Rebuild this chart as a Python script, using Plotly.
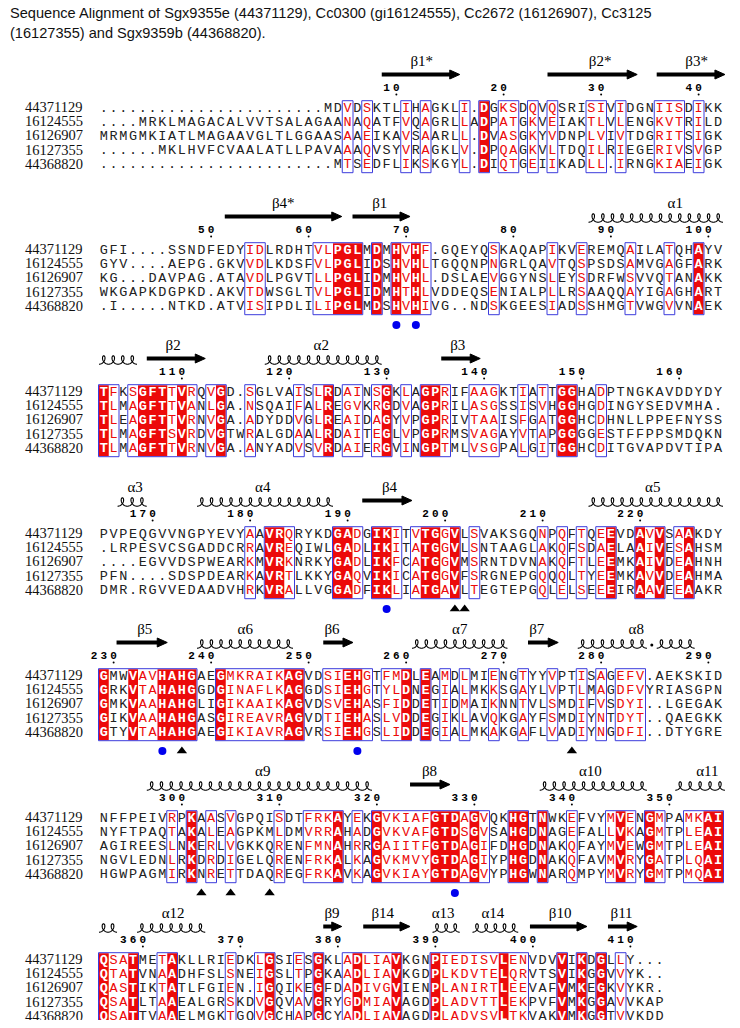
import numpy as np
import plotly.graph_objects as go

# ---------------- data ----------------
TITLE_1 = "Sequence Alignment of Sgx9355e (44371129), Cc0300 (gi16124555), Cc2672 (16126907), Cc3125"
TITLE_2 = "(16127355) and Sgx9359b (44368820)."
seq_names = ["44371129", "16124555", "16126907", "16127355", "44368820"]

b1_seqs = [
    ".........." ".........." "..." "MDVDSKTLIHAGKLI.DGKSDQVQSRISIVIDGNIISDIKK",
    "....MRKLMAGACALVVTSALAGAANAQATFVQAGRLLADPATGKVEIAKTLVLENGKVTRILD",
    "MRMGMKIATLMAGAAVGLTLGGAASAAEIKAVSAARLL.DVASGKYVDNPLVIVTDGRITSIGK",
    "......MKLHVFCVAALATLLPAVAAAQVSYVRAGKLV.DPQAGKVLTDQILRIEGERIVSVGP",
    ".........." ".........." "...." "MTSEDFLIKSKGYL.DIQTGEIIKADLL.IRNGKIAEIGK",
]
b1_identical = [40]
b1_frames = [(26, 26), (28, 28), (32, 32), (34, 34), (38, 38), (40, 40), (42, 43), (45, 45),
             (47, 47), (51, 52), (54, 54), (58, 60), (62, 62)]
b1_plain = []
b1_ticks = [(31, 10), (42, 20), (52, 30), (62, 40)]
b1_strands = [(29.0, 37.0), (46.0, 55.2), (57.2, 64.2)]
b1_helices = []
b1_labels = [("β1*", 33.1), ("β2*", 51.4), ("β3*", 61.3)]
b1_dots, b1_triangles = [], []

b2_seqs = [
    "GFI....SSNDFEDYIDLRDHTVLPGLMDMHVHF.GQEYQSKAQAPIKVEREMQAILATQHAYV",
    "GYV....AEPG.GKVVDLKDSFVLPGLIDSHVHLTGQQNPNGRLQAVTQSPSDSAMVGAGFARK",
    "KG...DAVPAG.ATAVDLPGVTLLPGLIDMHVHL.DSLAEVGGYNSLEYSDRFWSVVQTANAKK",
    "WKGAPKDGPKD.AKVTDWSGLTVLPGLIDMHTHLVDDEQSENIALPLLRSAAQQAYIGAGHART",
    ".I.....NTKD.ATVISIPDLILIPGLMDSHVHIVG..NDSKGEESIADSSHMGTVWGVVNAEK",
]
b2_identical = [25, 26, 27, 29, 31, 33, 62]
b2_frames = [(16, 17), (23, 27), (29, 29), (31, 34), (41, 41), (47, 47), (50, 50), (55, 55),
             (59, 59), (62, 62)]
b2_plain = []
b2_ticks = [(12, 50), (22, 60), (32, 70), (43, 80), (53, 90), (63, 100)]
b2_strands = [(12.9, 24.9), (26.0, 31.9)]
b2_helices = [(50.2, 64.0)]
b2_labels = [("β4*", 18.9), ("β1", 28.8), ("α1", 59.1)]
b2_dots, b2_triangles = [31, 33], []

b3_seqs = [
    "TFKSGFTTVRQVGD.SGLVAISLRDAINSGKLAGPRIFAAGKTIATTGGHADPTNGKAVDDYDY",
    "TLMAGFTTVANLGA.NSQAIFALREGVKRGDVAGPRILASGSSISVHGGHGDINGYSEDVMHA.",
    "TLEAGFTTVRNVGA.ADYDDVGLREAIDAGYVPGPRIVTAAISFGATGGHCDHNLLPPEFNYSS",
    "TLMAGFTSVRDVGTWRALGDAALRDAITEGLVPGPRMSVAGAYVTAPGGGGESTFFPPSMDQKN",
    "TLMAGFTTVRNVGA.ANYADVSVRDAIERGVINGPTMLVSGPALGITGGHCDITGVAPDVTIPA",
]
b3_identical = [1, 5, 6, 7, 9, 13, 24, 30, 34, 35, 48, 49]
b3_frames = [(1, 2), (4, 10), (12, 13), (16, 16), (21, 21), (23, 24), (26, 27), (29, 30), (32, 32),
             (34, 36), (39, 41), (44, 44), (46, 46), (48, 49), (52, 52)]
b3_plain = []
b3_ticks = [(9, 110), (20, 120), (30, 130), (40, 140), (50, 150), (60, 160)]
b3_strands = [(4.9, 10.9), (35.1, 39.1)]
b3_helices = [(0.0, 3.9), (17.0, 29.0)]
b3_labels = [("β2", 7.6), ("α2", 22.8), ("β3", 36.8)]
b3_dots, b3_triangles = [], []

b4_seqs = [
    "PVPEQGVVNGPYEVYAAVRQRYKDGADGIKITVTGGVLSVAKSGQNPQFTQEEVDAVVSAAKDY",
    ".LRPESVCSGADDCRRAVREQIWLGADLIKITATGGVLSNTAAGLAKQFSDAELAAIVESAHSM",
    "....EGVVDSPWEARKMVRKNRKYGADLIKFCATGGVMSRNTDVNAKQFTLEEMKAIVDEAHNH",
    "PFN....SDSPDEARKAVRTLKKYGAQVIKICATGGVFSRGNEPGQQQLTYEEMKAVVDEAHMA",
    "DMR.RGVVEDAADVHRKVRALLVGGADFIKLIATGAVLTEGTEPGQLELSEEEIRAAVEEAAKR",
]
b4_identical = [18, 19, 25, 26, 29, 30, 34, 35, 37, 53, 56, 58, 61]
b4_frames = [(16, 16), (18, 20), (25, 27), (29, 31), (33, 37), (39, 39), (46, 46), (48, 48),
             (50, 50), (52, 53), (56, 58), (60, 61)]
b4_plain = []
b4_ticks = [(6, 170), (16, 180), (26, 190), (36, 200), (46, 210), (56, 220)]
b4_strands = [(27.0, 32.1)]
b4_helices = [(1.9, 4.9), (10.05, 24.0), (50.2, 64.0)]
b4_labels = [("α3", 3.7), ("α4", 16.8), ("β4", 29.8), ("α5", 56.8)]
b4_dots, b4_triangles = [30], [37, 38]

b5_seqs = [
    "GMWVAVHAHGAEGMKRAIKAGVDSIEHGTFMDLEAMDLMIENGTYYVPTISAGEFV.AEKSKID",
    "GRKVTAHAHGGDGINAFLKAGGDSIEHGTYLDNEGIALMKKSGAYLVPTLMAGDFVYRIASGPN",
    "GMKVAAHAHGLIGIKAAIKAGVDSVEHASFIDDETIDMAIKNNTVLSMDIFVSDYI..LGEGAK",
    "GIKVAAHAHGASGIREAVRAGVDTIEHASLVDDEGIKLAVQKGAYFSMDIYNTDYT..QAEGKK",
    "GTYVTAHAHGAEGIKIAVRAGVRSIEHGSLIDDEGIALMKAKGAFLVADIYNGDFI..DTYGRE",
]
b5_identical = [1, 4, 7, 8, 9, 10, 13, 20, 21, 26, 27, 32, 34]
b5_frames = [(1, 10), (13, 21), (24, 28), (30, 32), (34, 34), (36, 36), (38, 38), (41, 41),
             (44, 44), (47, 47), (50, 50), (52, 52), (54, 56)]
b5_plain = [2, 3]
b5_ticks = [(2, 230), (12, 240), (22, 250), (32, 260), (42, 270), (52, 280), (63, 290)]
b5_strands = [(1.8, 7.0), (23.0, 26.05), (44.0, 47.1)]
b5_helices = [(10.05, 19.9), (32.1, 41.9), (49.1, 56.2), (57.2, 61.1)]
b5_labels = [("β5", 4.7), ("α6", 15.0), ("β6", 23.9), ("α7", 37.0), ("β7", 44.9), ("α8", 55.1)]
b5_dots, b5_triangles = [7, 27], [9, 49]

b6_seqs = [
    "NFFPEIVRPKAASVGPQISDTFRKAYEKGVKIAFGTDAGVQKHGTNWKEFVYMVENGMPAMKAI",
    "NYFTPAQTAKALEAGPKMLDMVRRAHADGVKVAFGTDSGVSAHGDNAGEFALLVKAGMTPLEAI",
    "AGIREESLNKERLVGKKQRENFMNAHRRGAIITFGTDAGIFDHGDNAKQFAYMVEWGMTPLEAI",
    "NGVLEDNLRKDRDIGELQRENFRKALKAGVKMVYGTDAGIYPHGDNAKQFAVMVRYGATPLQAI",
    "HGWPAGMIRKNRETTDAQREGFRKAVKAGVKIAYGTDAGVYPHGWNARQMPYMVRYGMTPMQAI",
]
b6_identical = [10, 25, 29, 35, 36, 37, 39, 43, 44, 46, 54, 57, 63, 64]
b6_frames = [(8, 8), (10, 10), (12, 12), (14, 14), (19, 19), (22, 25), (27, 27), (29, 40),
             (43, 44), (46, 46), (49, 49), (53, 55), (57, 58), (61, 64)]
b6_plain = []
b6_ticks = [(9, 300), (19, 310), (29, 320), (39, 330), (49, 340), (59, 350)]
b6_strands = [(31.9, 36.0)]
b6_helices = [(4.9, 28.0), (45.2, 56.2), (59.1, 64.2)]
b6_labels = [("α9", 16.8), ("β8", 33.9), ("α10", 50.4), ("α11", 62.4)]
b6_dots, b6_triangles = [37], [11, 14, 18]

b7_seqs = [
    "QSATMETAKLLRIEDKLGSIESGKLADLIAVKGNPIEDISVLENVDVVIKDGLLY...",
    "QTATVNAADHFSLSNEIGSLTPGKAADLIAVKGDPLKDVTELQRVTSVIKGGVVYK..",
    "QASTIKTATLFGIEN.IGQIKEGFDADIVGVIENPLANIRTLEEVAFVMKEGKVYKR.",
    "QSATLTAAEALGRSKDVGQVAVGRYGDMIAVAGDPLADVTTLEKPVFVMKGGAVVKAP",
    "QSATTVAAELMGKTGQVGCHAPGCYADLIAVAGDPLADVSVLTKVAKVMKGGTVVKDD",
]
b7_identical = [1, 4, 8, 18, 23, 27, 31, 35, 42, 48, 50, 52]
b7_frames = [(1, 4), (7, 8), (14, 14), (17, 18), (21, 21), (23, 23), (26, 31), (35, 44),
             (48, 48), (50, 50), (52, 52), (54, 54)]
b7_plain = []
b7_ticks = [(5, 360), (15, 370), (25, 380), (35, 390), (45, 400), (55, 410)]
b7_strands = [(23.0, 24.9), (27.1, 31.9), (44.2, 50.05), (52.2, 55.2)]
b7_helices = [(0.0, 1.85), (3.9, 10.9), (34.2, 37.0), (38.3, 43.0)]
b7_labels = [("α12", 7.6), ("β9", 23.9), ("β14", 29.1), ("α13", 35.3), ("α14", 40.4),
             ("β10", 47.3), ("β11", 53.6)]
b7_dots, b7_triangles = [], []

# ---------------- page geometry ----------------
X0, CW = 99.0, 9.75          # left edge of first residue column, column width
NUM_Y0, BLOCK_STEP = 88.0, 142.0
ROW_DY, ROW_STEP = 20.3, 14.2
RED = "#ec0a0a"
BLUE_FRAME = "#3c3cdc"
PAGE_MARGIN = 8              # default body margin of the html page
FIG_W, FIG_H = 740 - 2 * PAGE_MARGIN, 1028 - 2 * PAGE_MARGIN

blocks = []
for (seqs, ident, frames, plain, ticks, strands, helices, labels, dots, tris) in [
    (b1_seqs, b1_identical, b1_frames, b1_plain, b1_ticks, b1_strands, b1_helices, b1_labels, b1_dots, b1_triangles),
    (b2_seqs, b2_identical, b2_frames, b2_plain, b2_ticks, b2_strands, b2_helices, b2_labels, b2_dots, b2_triangles),
    (b3_seqs, b3_identical, b3_frames, b3_plain, b3_ticks, b3_strands, b3_helices, b3_labels, b3_dots, b3_triangles),
    (b4_seqs, b4_identical, b4_frames, b4_plain, b4_ticks, b4_strands, b4_helices, b4_labels, b4_dots, b4_triangles),
    (b5_seqs, b5_identical, b5_frames, b5_plain, b5_ticks, b5_strands, b5_helices, b5_labels, b5_dots, b5_triangles),
    (b6_seqs, b6_identical, b6_frames, b6_plain, b6_ticks, b6_strands, b6_helices, b6_labels, b6_dots, b6_triangles),
    (b7_seqs, b7_identical, b7_frames, b7_plain, b7_ticks, b7_strands, b7_helices, b7_labels, b7_dots, b7_triangles),
]:
    blocks.append(dict(seqs=seqs, ident=ident, frames=frames, plain=plain, ticks=ticks,
                       strands=strands, helices=helices, labels=labels, dots=dots, tris=tris))


def col_center(c):
    return X0 + (c - 0.5) * CW


def edge_x(e):
    return X0 + e * CW


shapes = []
txt = {"black": ([], [], []), "red": ([], [], []), "white": ([], [], [])}
name_x, name_y, name_t = [], [], []
num_x, num_y, num_t = [], [], []
tick_dot_x, tick_dot_y = [], []
lab_x, lab_y, lab_t = [], [], []
bdot_x, bdot_y, tri_x, tri_y = [], [], [], []
small_dot_x, small_dot_y = [], []

for bi, blk in enumerate(blocks):
    ny = NUM_Y0 + bi * BLOCK_STEP
    label_y = ny - 26.0
    arrow_y = ny - 13.5
    coil_y = ny - 12.0
    rows_y = [ny + ROW_DY + k * ROW_STEP for k in range(5)]
    top = rows_y[0] - ROW_STEP / 2
    bot = rows_y[-1] + ROW_STEP / 2

    ident = sorted(blk["ident"])
    runs = []
    for c in ident:
        if runs and c == runs[-1][1] + 1:
            runs[-1][1] = c
        else:
            runs.append([c, c])
    for a, b in runs:
        shapes.append(dict(type="rect", xref="x", yref="y", x0=edge_x(a - 1), x1=edge_x(b),
                           y0=top, y1=bot, fillcolor=RED, line=dict(width=0), layer="below"))
    framed = set()
    for a, b in blk["frames"]:
        framed.update(range(a, b + 1))
        shapes.append(dict(type="rect", xref="x", yref="y", x0=edge_x(a - 1) - 0.5, x1=edge_x(b) + 0.5,
                           y0=top - 0.5, y1=bot + 0.5, fillcolor="rgba(0,0,0,0)",
                           line=dict(color=BLUE_FRAME, width=1)))

    for r, s in enumerate(blk["seqs"]):
        name_x.append(25)
        name_y.append(rows_y[r])
        name_t.append(seq_names[r])
        for i, ch in enumerate(s):
            c = i + 1
            if c in blk["ident"]:
                key = "white"
            elif c in framed and c not in blk["plain"] and ch != ".":
                key = "red"
            else:
                key = "black"
            txt[key][0].append(col_center(c))
            txt[key][1].append(rows_y[r])
            txt[key][2].append(ch)

    for c, n in blk["ticks"]:
        digits = str(n)
        for k, d in enumerate(digits):
            cc = c - (len(digits) - 1 - k)
            num_x.append(col_center(cc))
            num_y.append(ny)
            num_t.append(d)
        tick_dot_x.append(col_center(c))
        tick_dot_y.append(ny + 6.5)

    for a, b in blk["strands"]:
        xa, xb = edge_x(a), edge_x(b)
        shapes.append(dict(type="line", xref="x", yref="y", x0=xa, x1=xb - 8, y0=arrow_y, y1=arrow_y,
                           line=dict(color="black", width=4)))
        shapes.append(dict(type="path", xref="x", yref="y",
                           path=f"M {xb-10:.2f},{arrow_y-4.5:.2f} L {xb:.2f},{arrow_y:.2f} L {xb-10:.2f},{arrow_y+4.5:.2f} Z",
                           fillcolor="black", line=dict(color="black", width=1)))
    for a, b in blk["helices"]:
        xa, xb = edge_x(a), edge_x(b)
        nloop = max(1, int(round((xb - xa) / CW)))
        per = (xb - xa) / nloop
        t = np.linspace(-np.pi, -np.pi + 2 * np.pi * nloop, 40 * nloop + 1)
        xs = xa + per * (t + np.pi) / (2 * np.pi) - 3.3 * np.sin(t)
        ys = coil_y - 4.2 * np.cos(t)
        path = "M " + " L ".join(f"{x:.2f},{y:.2f}" for x, y in zip(xs, ys))
        shapes.append(dict(type="path", xref="x", yref="y", path=path,
                           line=dict(color="black", width=1.1)))
    if bi == 4:
        small_dot_x.append(edge_x(56.7))
        small_dot_y.append(coil_y + 1)

    for lt, e in blk["labels"]:
        lab_x.append(edge_x(e))
        lab_y.append(label_y)
        lab_t.append(lt)

    sy = ny + 95
    for c in blk["dots"]:
        bdot_x.append(col_center(c))
        bdot_y.append(sy)
    for c in blk["tris"]:
        tri_x.append(col_center(c))
        tri_y.append(sy)

fig = go.Figure()
MONO = "Liberation Mono"
fig.add_trace(go.Scatter(x=txt["black"][0], y=txt["black"][1], text=txt["black"][2], mode="text",
                         textposition="middle center",
                         textfont=dict(family=MONO, size=13.5, color="#222222"), hoverinfo="skip"))
fig.add_trace(go.Scatter(x=txt["red"][0], y=txt["red"][1], text=txt["red"][2], mode="text",
                         textposition="middle center",
                         textfont=dict(family=MONO, size=13.5, color=RED), hoverinfo="skip"))
fig.add_trace(go.Scatter(x=txt["white"][0], y=txt["white"][1], text=txt["white"][2], mode="text",
                         textposition="middle center",
                         textfont=dict(family=MONO, size=13.5, color="white", weight="bold"), hoverinfo="skip"))
fig.add_trace(go.Scatter(x=name_x, y=name_y, text=name_t, mode="text", textposition="middle right",
                         textfont=dict(family="Liberation Serif", size=14.5, color="#111111"), hoverinfo="skip"))
fig.add_trace(go.Scatter(x=num_x, y=num_y, text=num_t, mode="text", textposition="middle center",
                         textfont=dict(family=MONO, size=11, color="black", weight="bold"), hoverinfo="skip"))
fig.add_trace(go.Scatter(x=tick_dot_x, y=tick_dot_y, mode="markers",
                         marker=dict(size=2, color="black"), hoverinfo="skip"))
fig.add_trace(go.Scatter(x=lab_x, y=lab_y, text=lab_t, mode="text", textposition="middle center",
                         textfont=dict(family="Liberation Serif", size=15, color="black"), hoverinfo="skip"))
fig.add_trace(go.Scatter(x=small_dot_x, y=small_dot_y, mode="markers",
                         marker=dict(size=3, color="black"), hoverinfo="skip"))
fig.add_trace(go.Scatter(x=bdot_x, y=bdot_y, mode="markers",
                         marker=dict(symbol="circle", size=8, color="#0000ee"), hoverinfo="skip"))
fig.add_trace(go.Scatter(x=tri_x, y=tri_y, mode="markers",
                         marker=dict(symbol="triangle-up", size=9, color="black"), hoverinfo="skip"))

for ty, tline in [(13, TITLE_1), (33, TITLE_2)]:
    fig.add_annotation(x=0, y=1 - (ty - PAGE_MARGIN) / FIG_H, xref="paper", yref="paper",
                       text=tline, showarrow=False, xanchor="left", yanchor="middle", xshift=0,
                       font=dict(family="Liberation Sans", size=14.6, color="#111111"))

fig.update_layout(
    width=FIG_W, height=FIG_H, margin=dict(l=0, r=0, t=0, b=0),
    paper_bgcolor="white", plot_bgcolor="white", showlegend=False,
    xaxis=dict(range=[PAGE_MARGIN, 740 - PAGE_MARGIN], visible=False, fixedrange=True),
    yaxis=dict(range=[1028 - PAGE_MARGIN, PAGE_MARGIN], visible=False, fixedrange=True),
    shapes=shapes,
)
fig.write_html("out.html")
